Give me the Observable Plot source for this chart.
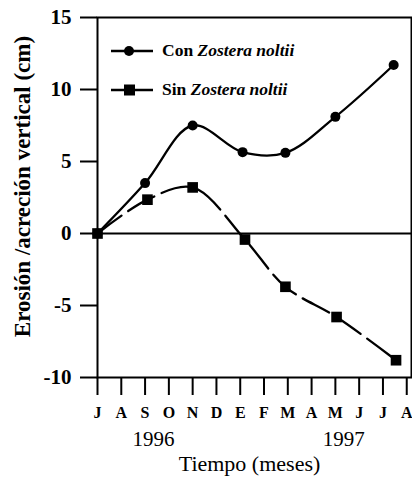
<!DOCTYPE html>
<html>
<head>
<meta charset="utf-8">
<script src="https://cdn.jsdelivr.net/npm/d3@7"></script>
<script src="https://cdn.jsdelivr.net/npm/@observablehq/plot@0.6"></script>
<style>
  html, body { margin: 0; padding: 0; background: #fff; }
  #wrap { position: relative; width: 412px; height: 477px; font-family: "Liberation Serif", "Times New Roman", serif; }
  #legend { position: absolute; left: 111px; top: 31px; font-weight: bold; font-size: 17.5px; color: #000; }
  #legend .row { display: flex; align-items: center; height: 39px; }
  #legend svg { margin-right: 9px; }
</style>
</head>
<body>
<div id="wrap">
  <div id="chart"></div>
  <div id="legend"></div>
</div>
<script>
// Month tick labels (July 1996 .. August 1997)
const monthLabels = ["J","A","S","O","N","D","E","F","M","A","M","J","J","A"];
const monthIndex = d3.range(monthLabels.length);
// Year labels and their month positions
const yearLabels = ["1996", "1997"];
const yearPos = [2.35, 10.35];
// Y ticks
const yTicks = [-10, -5, 0, 5, 10, 15];
// Series: months since July 1996, cm
const conMonth = [0, 2, 4, 6.1, 7.9, 10, 12.45];
const conValue = [0, 3.5, 7.5, 5.65, 5.6, 8.1, 11.7];
const sinMonth = [0, 2.1, 4, 6.2, 7.9, 10.05, 12.55];
const sinValue = [0, 2.35, 3.2, -0.42, -3.7, -5.8, -8.8];
const seriesNames = ["Con", "Sin"];
const speciesName = "Zostera noltii";

const con = conMonth.map((m, i) => ({m, v: conValue[i]}));
const sin = sinMonth.map((m, i) => ({m, v: sinValue[i]}));
const years = yearLabels.map((t, i) => ({t, m: yearPos[i]}));

const font = "Liberation Serif";
const chart = Plot.plot({
  width: 412,
  height: 477,
  marginTop: 17,
  marginLeft: 97,
  marginRight: 1,
  marginBottom: 100,
  style: {fontFamily: font, background: "white", color: "black", overflow: "visible"},
  x: {domain: [0, 13.2]},
  y: {domain: [-10, 15]},
  marks: [
    Plot.frame({stroke: "black", strokeWidth: 2}),
    Plot.ruleY([0], {stroke: "black", strokeWidth: 2}),
    Plot.axisY(yTicks, {tickSize: 17, tickPadding: 9, fontSize: 21, fontWeight: "bold", strokeWidth: 2, label: null, tickFormat: d => d < 0 ? "-" + Math.abs(d) : String(d)}),
    Plot.axisX(monthIndex, {tickSize: 18, tickPadding: 11, fontSize: 16, fontWeight: "bold", strokeWidth: 2, label: null, tickFormat: i => monthLabels[i]}),
    Plot.text(years, {x: "m", text: "t", frameAnchor: "bottom", dy: 62, lineAnchor: "middle", fontSize: 21}),
    Plot.text(["Tiempo (meses)"], {frameAnchor: "bottom", dy: 86, dx: -5, lineAnchor: "middle", fontSize: 22}),
    Plot.text(["Erosión /acreción vertical (cm)"], {frameAnchor: "left", textAnchor: "middle", dx: -75, dy: -11, rotate: -90, lineAnchor: "middle", fontSize: 23, fontWeight: "bold"}),
    Plot.line(con, {x: "m", y: "v", curve: "catmull-rom", stroke: "black", strokeWidth: 2.3}),
    Plot.line(sin, {x: "m", y: "v", curve: "catmull-rom", stroke: "black", strokeWidth: 2.3, strokeDasharray: "30,8"}),
    Plot.dot(con, {x: "m", y: "v", r: 5, fill: "black", symbol: "circle"}),
    Plot.dot(sin, {x: "m", y: "v", r: 6, fill: "black", symbol: "square"})
  ]
});
document.getElementById("chart").appendChild(chart);

// Legend
const legend = document.getElementById("legend");
seriesNames.forEach((name, i) => {
  const row = document.createElement("div");
  row.className = "row";
  const sym = i === 0
    ? '<circle cx="18" cy="8" r="5" fill="black"/>'
    : '<rect x="13" y="2.5" width="11" height="11" fill="black"/>';
  row.innerHTML = '<svg width="42" height="16"><line x1="0" x2="42" y1="8" y2="8" stroke="black" stroke-width="2.5"/>' + sym + '</svg>'
    + '<span>' + name + ' <i>' + speciesName + '</i></span>';
  legend.appendChild(row);
});
</script>
</body>
</html>
